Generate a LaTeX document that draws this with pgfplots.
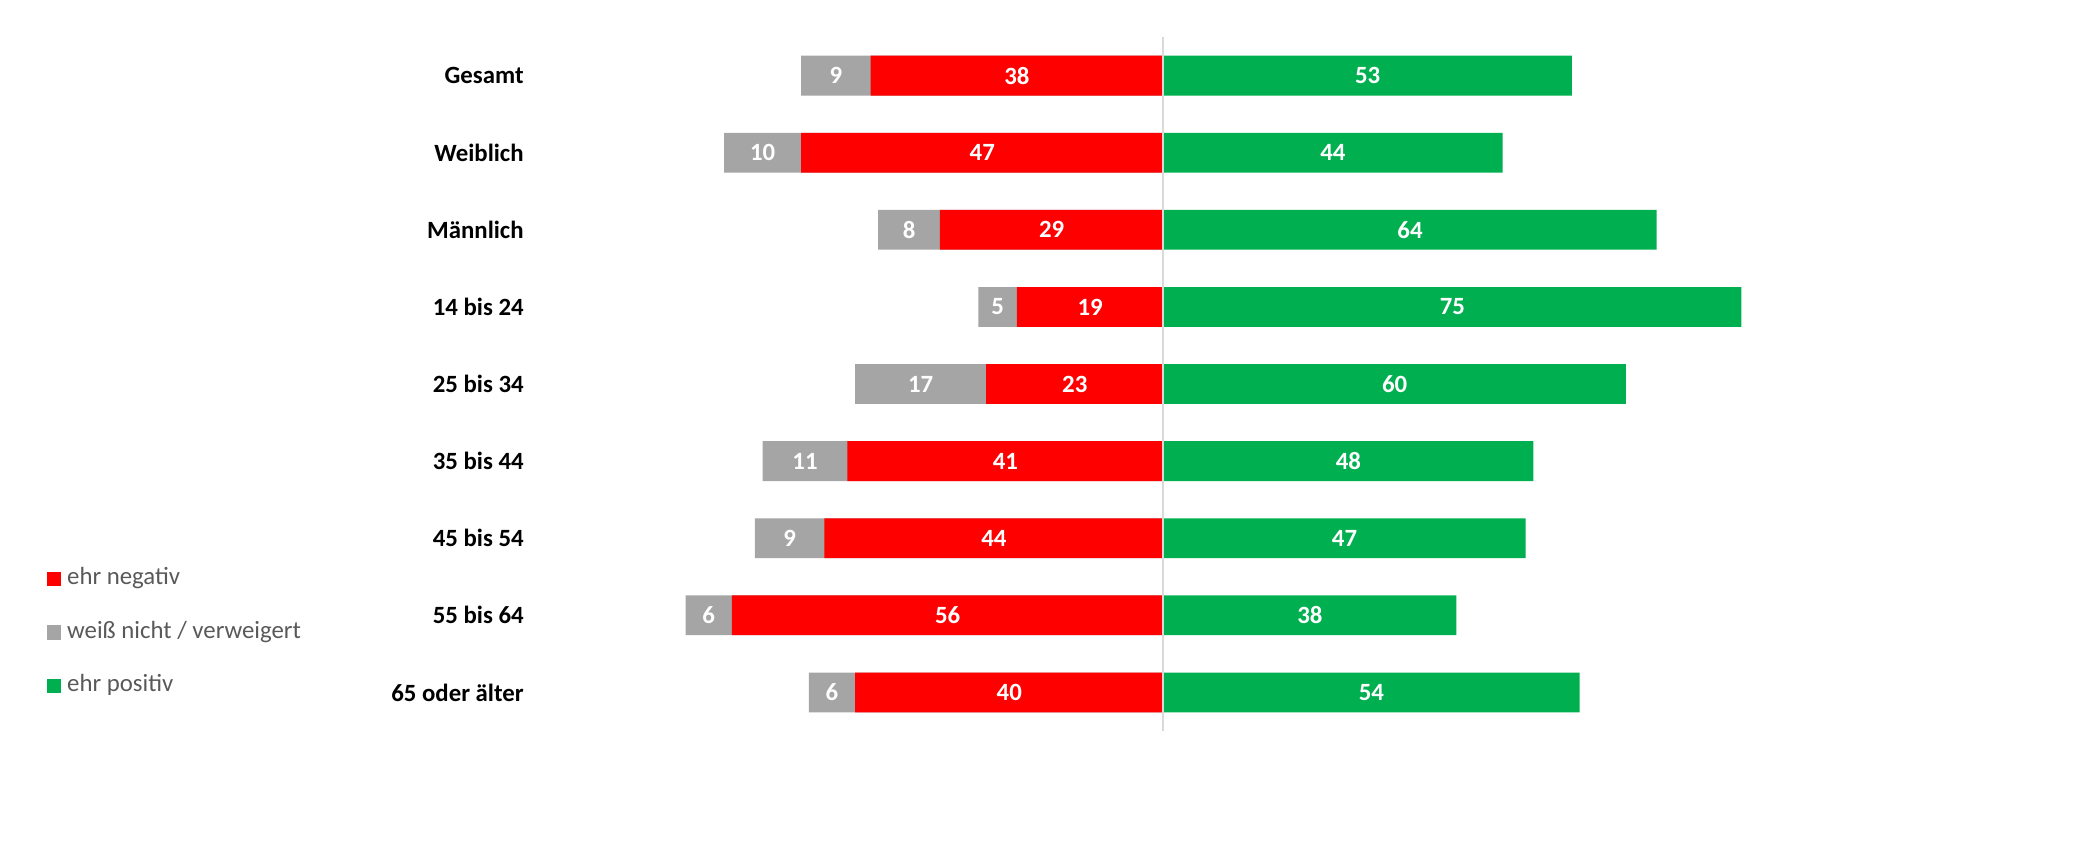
\documentclass[border=0pt]{standalone}
\usepackage{pgfplots}
\pgfplotsset{compat=1.18}
\usepackage{pgfplotstable}
\usepackage{fontspec}
\setmainfont{Carlito}
\definecolor{cneg}{HTML}{FF0000}
\definecolor{cdk}{HTML}{A5A5A5}
\definecolor{cpos}{HTML}{00B050}
\definecolor{cline}{HTML}{D9D9D9}
\definecolor{clegtext}{HTML}{595959}

\pgfplotstableread{
idx neg dk pos
0 38 9 53
1 47 10 44
2 29 8 64
3 19 5 75
4 23 17 60
5 41 11 48
6 44 9 47
7 56 6 38
8 40 6 54
}\data

\begin{document}
\begin{tikzpicture}
\begin{axis}[
  scale only axis, width=1040pt, height=431pt,
  xmin=-150.95, xmax=118.93, ymin=-0.981, ymax=10.200, y dir=reverse,
  enlargelimits=false, clip=false,
  axis line style={draw=none}, major tick style={draw=none}, xtick=\empty,
  ytick={0,...,8},
  yticklabels={Gesamt,Weiblich,Männlich,14 bis 24,25 bis 34,35 bis 44,45 bis 54,55 bis 64,65 oder älter},
  yticklabel style={anchor=east, inner sep=0pt, xshift=262pt, font=\fontsize{12.4}{15}\selectfont\bfseries, text=black},
  bar width=19.9pt,
  legend cell align=left,
  legend style={at={(0.0223,0.343)}, anchor=north west, draw=none, fill=none,
    font=\fontsize{12.4}{15}\selectfont, text=clegtext, row sep=14.8pt, inner sep=0pt,
    nodes={inner sep=0pt, text height=9pt, text depth=3pt},
    /tikz/every odd column/.append style={column sep=3.2pt}},
]
\path (axis description cs:0,0) rectangle (axis description cs:1,1);
\addplot[xbar, bar shift=0pt, fill=cdk, draw=none, forget plot] table[x expr=-\thisrow{neg}-\thisrow{dk}, y=idx]{\data};
\addplot[xbar, bar shift=0pt, fill=cneg, draw=none, forget plot] table[x expr=-\thisrow{neg}, y=idx]{\data};
\addplot[xbar, bar shift=0pt, fill=cpos, draw=none, forget plot] table[x=pos, y=idx]{\data};
\draw[cline, line width=1pt] (axis cs:0,-0.5) -- (axis cs:0,8.5);
\pgfplotsset{lbl/.style={draw=none, mark=none, forget plot, nodes near coords, point meta=explicit symbolic,
  every node near coord/.append style={anchor=center, text=white, font=\fontsize{12.4}{15}\selectfont\bfseries}}}
\addplot[lbl] table[x expr=-\thisrow{neg}/2, y=idx, meta=neg]{\data};
\addplot[lbl] table[x expr=-\thisrow{neg}-\thisrow{dk}/2, y=idx, meta=dk]{\data};
\addplot[lbl] table[x expr=\thisrow{pos}/2, y=idx, meta=pos]{\data};
\addlegendimage{legend image code/.code={\fill[cneg] (0pt,-3.3pt) rectangle (6.6pt,3.3pt);}}
\addlegendentry{ehr negativ}
\addlegendimage{legend image code/.code={\fill[cdk] (0pt,-3.3pt) rectangle (6.6pt,3.3pt);}}
\addlegendentry{weiß nicht / verweigert}
\addlegendimage{legend image code/.code={\fill[cpos] (0pt,-3.3pt) rectangle (6.6pt,3.3pt);}}
\addlegendentry{ehr positiv}
\end{axis}
\end{tikzpicture}
\end{document}
